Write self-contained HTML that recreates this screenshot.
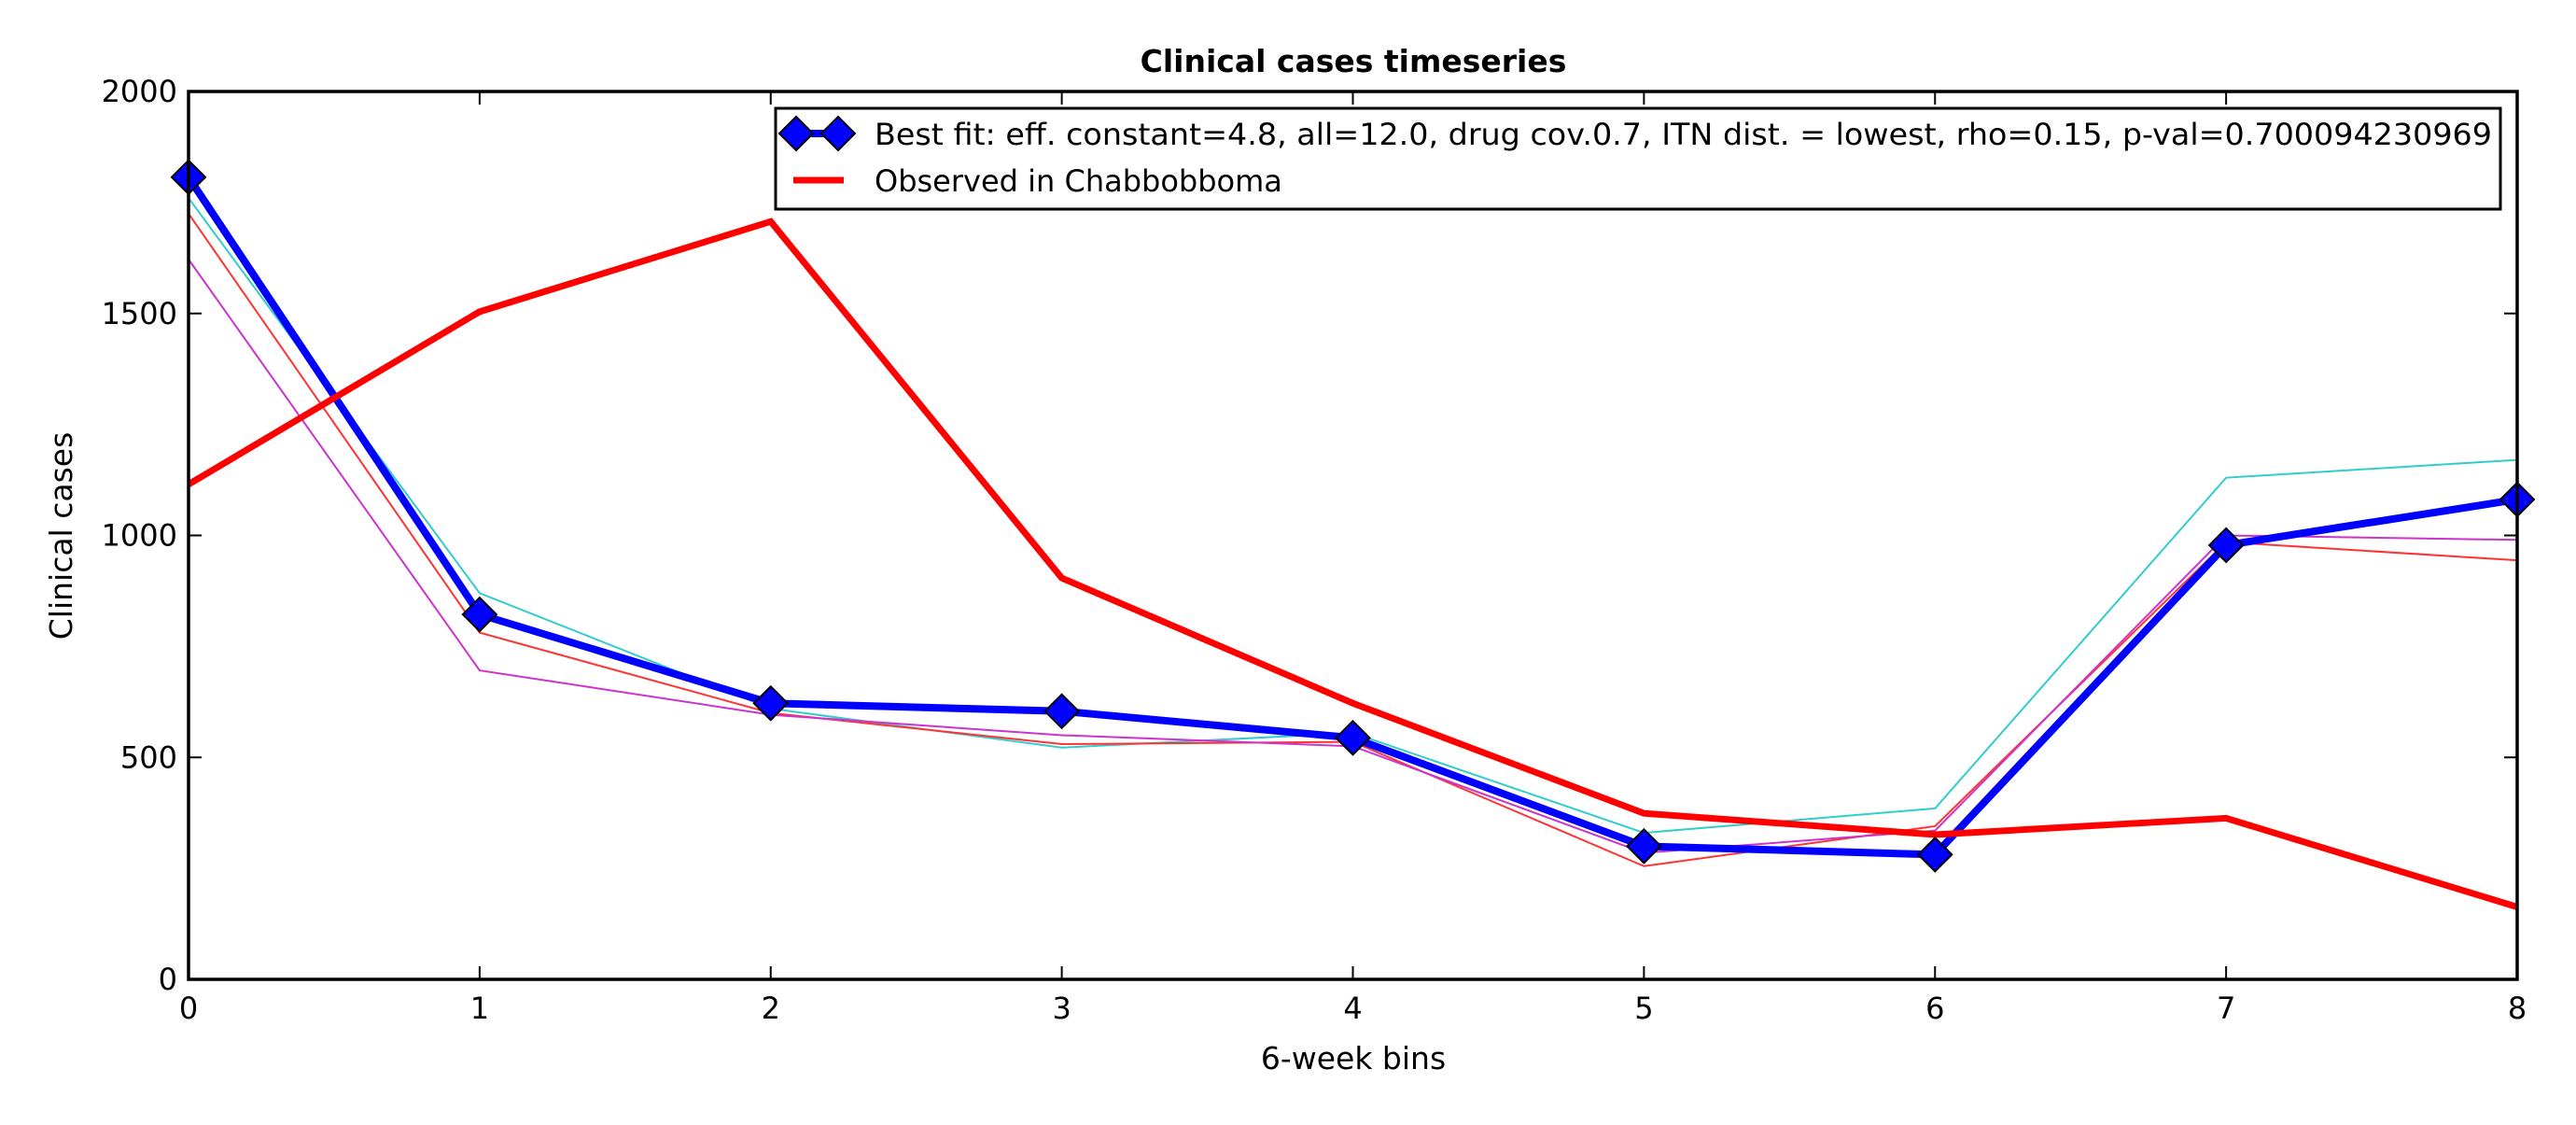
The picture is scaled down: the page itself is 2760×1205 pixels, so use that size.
<!DOCTYPE html>
<html><head><meta charset="utf-8"><style>
html,body{margin:0;padding:0;background:#fff;}
svg text{font-family:"DejaVu Sans","Liberation Sans",sans-serif;}
</style></head><body>
<svg id="chart" width="2760" height="1200" xmlns="http://www.w3.org/2000/svg">
<rect width="2760" height="1200" fill="#fff"/>
<g id="marks"></g>
<g id="axes"></g>
</svg>
<script>
const categories=[0,1,2,3,4,5,6,7,8];
const bestFit=[1807,822,622,604,544,300,281,978,1081];
const observed=[1115,1504,1707,904,622,374,326,363,163];
const simCyan=[1760,870,610,522,555,330,385,1130,1170];
const simRed=[1725,781,600,530,535,255,345,985,944];
const simMagenta=[1622,696,596,550,525,285,335,1000,990];
const yTicks=[0,500,1000,1500,2000];
const xTicks=[0,1,2,3,4,5,6,7,8];
const L=202,R=2697,T=98,B=1049;
const xs=v=>L+(v-0)/(8-0)*(R-L);
const ys=v=>B-(v-0)/(2000-0)*(B-T);
const NS="http://www.w3.org/2000/svg";
const marks=document.getElementById('marks'),axes=document.getElementById('axes');
function mk(tag,attrs,parent){const e=document.createElementNS(NS,tag);for(const k in attrs)e.setAttribute(k,attrs[k]);parent.appendChild(e);return e;}
function poly(vals,color,w,name){
  const p=mk('polyline',{points:vals.map((v,i)=>xs(categories[i])+','+ys(v)).join(' '),fill:'none',stroke:color,'stroke-width':w,'stroke-linejoin':'miter'},marks);
  
  
}
poly(simCyan,'#33cccc',2,'sim-line-cyan');
poly(simRed,'#ff3333',2,'sim-line-red');
poly(simMagenta,'#cc33cc',2,'sim-line-magenta');
poly(bestFit,'#0000ff',8,'best-fit-line');
poly(observed,'#ff0000',7,'observed-line');
bestFit.forEach((v,i)=>{
  const x=xs(categories[i]),y=ys(v),s=18;
  const d=mk('polygon',{points:`${x},${y-s} ${x+s},${y} ${x},${y+s} ${x-s},${y}`,fill:'#0000ff',stroke:'#000','stroke-width':2},marks);
  
  
});
const fr=mk('rect',{x:L,y:T,width:R-L,height:B-T,fill:'none',stroke:'#000','stroke-width':3.5},axes);


xTicks.forEach(t=>{
  const x=xs(t);
  mk('line',{x1:x,y1:B,x2:x,y2:B-14,stroke:'#000','stroke-width':2},axes);
  mk('line',{x1:x,y1:T,x2:x,y2:T+14,stroke:'#000','stroke-width':2},axes);
  const tx=mk('text',{x:x,y:B+42,'font-size':32,'text-anchor':'middle',fill:'#000'},axes);
  tx.textContent=t;
  
  
});
yTicks.forEach(t=>{
  const y=ys(t);
  mk('line',{x1:L,y1:y,x2:L+14,y2:y,stroke:'#000','stroke-width':2},axes);
  mk('line',{x1:R,y1:y,x2:R-14,y2:y,stroke:'#000','stroke-width':2},axes);
  const tx=mk('text',{x:L-12,y:y+11,'font-size':32,'text-anchor':'end',fill:'#000'},axes);
  tx.textContent=t;
  
  
});
</script>
<svg style="position:absolute;left:0;top:0" width="2760" height="1200" xmlns="http://www.w3.org/2000/svg">
<text x="1450" y="77" font-size="33" font-weight="bold" text-anchor="middle">Clinical cases timeseries</text>
<text x="1450" y="1145" font-size="33" text-anchor="middle">6-week bins</text>
<text transform="translate(77,574) rotate(-90)" font-size="33" text-anchor="middle">Clinical cases</text>
<g>
<rect x="831" y="116" width="1848" height="108" fill="#fff" stroke="#000" stroke-width="3"/>
<line x1="853" y1="143" x2="898" y2="143" stroke="#0000ff" stroke-width="8"/>
<polygon points="853,125 871,143 853,161 835,143" fill="#0000ff" stroke="#000" stroke-width="2"/>
<polygon points="898,125 916,143 898,161 880,143" fill="#0000ff" stroke="#000" stroke-width="2"/>
<text x="937" y="155" font-size="32" textLength="1733" lengthAdjust="spacingAndGlyphs">Best fit: eff. constant=4.8, all=12.0, drug cov.0.7, ITN dist. = lowest, rho=0.15, p-val=0.700094230969</text>
<line x1="850" y1="193" x2="904" y2="193" stroke="#ff0000" stroke-width="7"/>
<text x="937" y="205" font-size="32">Observed in Chabbobboma</text>
</g>
</svg>
</body></html>
